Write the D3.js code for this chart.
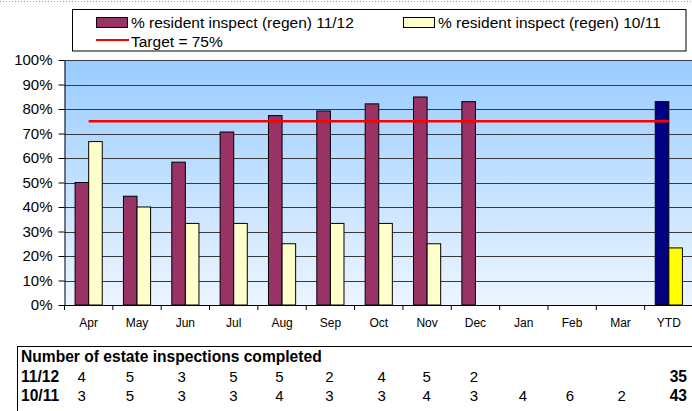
<!DOCTYPE html>
<html>
<head>
<meta charset="utf-8">
<script src="https://cdn.jsdelivr.net/npm/d3@7"></script>
<style>
  body { margin: 0; background: #fff; }
  svg { display: block; font-family: 'Liberation Sans', Arial, sans-serif; }
</style>
</head>
<body>
<svg id="chart"></svg>
<script>
// chart values
const months = ['Apr', 'May', 'Jun', 'Jul', 'Aug', 'Sep', 'Oct', 'Nov', 'Dec', 'Jan', 'Feb', 'Mar', 'YTD']
const pct1112 = [50, 44.4, 58.3, 70.6, 77.3, 79.2, 82.1, 84.9, 83.0, null, null, null, 83.0]
const pct1011 = [66.7, 40, 33.3, 33.3, 25, 33.3, 33.3, 25, null, null, null, null, 23.3]
const target = 75
const seriesNames = ['% resident inspect (regen) 11/12', '% resident inspect (regen) 10/11']
const targetName = 'Target = 75%'

// table under the chart
const tableTitle = 'Number of estate inspections completed'
const rowLabels = ['11/12', '10/11']
const count1112 = [4, 5, 3, 5, 5, 2, 4, 5, 2, null, null, null]
const count1011 = [3, 5, 3, 3, 4, 3, 3, 4, 3, 4, 6, 2]
const totals = [35, 43]

class InspectChart {
    constructor(_config) {
        this.config = {
            parentElement: _config.parentElement,
            containerWidth: 692,
            containerHeight: 411,
            plot: {left: 64.5, right: 693, top: 60, bottom: 305},
            tableColX: [81.7, 130, 181.7, 233.3, 279.3, 329.3, 381.7, 426.7, 474, 523, 570, 621.7],
        }
        this.initVis()
    }

    initVis() {
        let vis = this
        let p = vis.config.plot

        vis.svg = d3.select(vis.config.parentElement)
            .attr('width', vis.config.containerWidth)
            .attr('height', vis.config.containerHeight)

        let grad = vis.svg.append('defs').append('linearGradient')
            .attr('id', 'bg').attr('x1', 0).attr('y1', 0).attr('x2', 0).attr('y2', 1)
        grad.append('stop').attr('offset', 0).attr('stop-color', '#99ccff')
        grad.append('stop').attr('offset', 1).attr('stop-color', '#ecf5ff')

        // dotted page edge at the top
        vis.svg.append('line')
            .attr('x1', 0).attr('x2', 692).attr('y1', 1.5).attr('y2', 1.5)
            .attr('stroke', '#999').attr('stroke-dasharray', '1,2')

        vis.xScale = d3.scaleBand().domain(months).range([p.left, p.right])
        vis.xInner = d3.scaleBand().domain(['a', 'b'])
            .range([0, vis.xScale.bandwidth()]).paddingOuter(0.78)
        vis.yScale = d3.scaleLinear().domain([0, 100]).range([p.bottom, p.top])

        vis.chart = vis.svg.append('g')
    }

    renderVis() {
        let vis = this
        let p = vis.config.plot
        let x = vis.xScale, y = vis.yScale

        vis.chart.append('rect')
            .attr('x', p.left).attr('y', p.top)
            .attr('width', p.right - p.left).attr('height', p.bottom - p.top)
            .attr('fill', 'url(#bg)')

        vis.chart.selectAll('.grid')
            .data(y.ticks(10))
            .join('line')
                .attr('class', 'grid')
                .attr('x1', p.left).attr('x2', p.right)
                .attr('y1', d => Math.round(y(d)) + 0.5).attr('y2', d => Math.round(y(d)) + 0.5)
                .attr('stroke', '#3a3a3a').attr('stroke-width', 1)

        let bars = []
        months.forEach((m, i) => {
            if (pct1112[i] != null) bars.push({m, k: 'a', v: pct1112[i], fill: m === 'YTD' ? '#000080' : '#993366'})
            if (pct1011[i] != null) bars.push({m, k: 'b', v: pct1011[i], fill: m === 'YTD' ? '#ffff00' : '#ffffcc'})
        })

        vis.chart.selectAll('.bar')
            .data(bars)
            .join('rect')
                .attr('class', 'bar')
                .attr('x', d => x(d.m) + vis.xInner(d.k))
                .attr('width', vis.xInner.bandwidth())
                .attr('y', d => y(d.v))
                .attr('height', d => y(0) - y(d.v))
                .attr('fill', d => d.fill)
                .attr('stroke', '#000').attr('stroke-width', 1)

        // target line from first to last category centre
        vis.chart.append('line')
            .attr('x1', x(months[0]) + x.bandwidth() / 2)
            .attr('x2', x(months[months.length - 1]) + x.bandwidth() / 2)
            .attr('y1', y(target)).attr('y2', y(target))
            .attr('stroke', '#ff0000').attr('stroke-width', 2.5)

        // axes
        let yAxis = d3.axisLeft(y).tickValues(y.ticks(10)).tickFormat(d => d + '%').tickSize(6).tickSizeOuter(0)
        let yAxisG = vis.svg.append('g')
            .attr('transform', `translate(${p.left},0)`)
            .call(yAxis)
        yAxisG.selectAll('text').attr('font-size', 15).attr('font-family', null).attr('fill', '#000').attr('x', -12)
        yAxisG.selectAll('line, path').attr('stroke', '#000')

        let xAxis = d3.axisBottom(x).tickSize(0)
        let xAxisG = vis.svg.append('g')
            .attr('transform', `translate(0,${p.bottom})`)
            .call(xAxis)
        xAxisG.select('.domain').attr('stroke', '#000')
        xAxisG.selectAll('text').attr('font-size', 12).attr('font-family', null).attr('fill', '#000').attr('y', 13)
        xAxisG.selectAll('.sep')
            .data(months)
            .join('line')
                .attr('class', 'sep')
                .attr('x1', d => x(d)).attr('x2', d => x(d))
                .attr('y1', 0).attr('y2', 5)
                .attr('stroke', '#000')

        vis.renderLegend()
        vis.renderTable()
    }

    renderLegend() {
        let vis = this
        let lg = vis.svg.append('g')
        lg.append('rect')
            .attr('x', 72.5).attr('y', 9.5).attr('width', 613.5).attr('height', 41.5)
            .attr('fill', '#fff').attr('stroke', '#000')

        let items = [
            {name: seriesNames[0], fill: '#993366', x: 96, y: 17},
            {name: seriesNames[1], fill: '#ffffcc', x: 403, y: 17},
        ]
        items.forEach(it => {
            lg.append('rect')
                .attr('x', it.x + 0.5).attr('y', it.y + 0.5).attr('width', 31).attr('height', 10)
                .attr('fill', it.fill).attr('stroke', '#000')
            lg.append('text')
                .attr('x', it.x + 35).attr('y', it.y + 10.5)
                .attr('font-size', 15.5).text(it.name)
        })
        lg.append('line')
            .attr('x1', 96).attr('x2', 129).attr('y1', 40).attr('y2', 40)
            .attr('stroke', '#ff0000').attr('stroke-width', 2)
        lg.append('text')
            .attr('x', 131).attr('y', 47).attr('font-size', 15.5).text(targetName)
    }

    renderTable() {
        let vis = this
        let t = vis.svg.append('g')
        let colX = vis.config.tableColX

        t.append('line').attr('x1', 17).attr('x2', 692).attr('y1', 346.5).attr('y2', 346.5).attr('stroke', '#000')
        t.append('line').attr('x1', 17.5).attr('x2', 17.5).attr('y1', 346).attr('y2', 411).attr('stroke', '#000')

        t.append('text').attr('x', 21).attr('y', 362)
            .attr('font-size', 15.6).attr('font-weight', 'bold').text(tableTitle)

        let rows = [count1112, count1011]
        let rowY = [382, 401]
        rows.forEach((row, r) => {
            t.append('text').attr('x', 21).attr('y', rowY[r])
                .attr('font-size', 15.6).attr('font-weight', 'bold').text(rowLabels[r])
            t.selectAll(`.c${r}`)
                .data(row.map((v, i) => ({v, i})).filter(d => d.v != null))
                .join('text')
                    .attr('class', `c${r}`)
                    .attr('x', d => colX[d.i]).attr('y', rowY[r])
                    .attr('text-anchor', 'middle').attr('font-size', 15)
                    .text(d => d.v)
            t.append('text').attr('x', 687).attr('y', rowY[r])
                .attr('text-anchor', 'end').attr('font-size', 15.6).attr('font-weight', 'bold')
                .text(totals[r])
        })
    }
}

let chart = new InspectChart({parentElement: '#chart'})
chart.renderVis()
</script>
</body>
</html>
